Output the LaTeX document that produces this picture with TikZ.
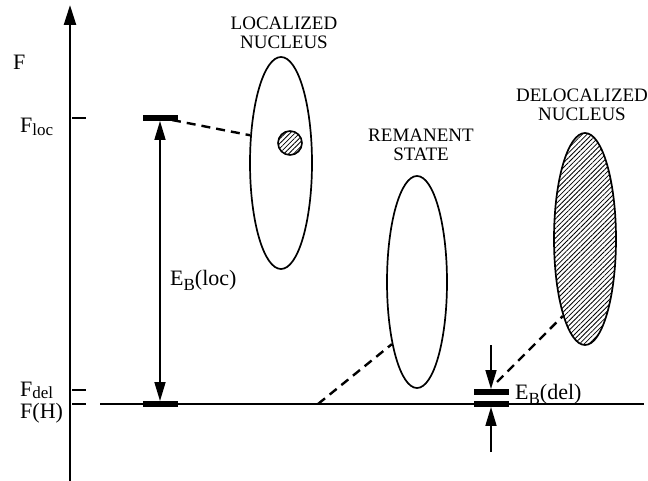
\documentclass[tikz,border=0pt]{standalone}
\usepackage{fontspec}
\setmainfont{Liberation Serif}
\usetikzlibrary{shapes.geometric,arrows.meta,patterns.meta}
\newcommand\mysub[2]{\raisebox{-#1}{\fontsize{17}{17}\selectfont #2}}
\begin{document}
\begin{tikzpicture}[x=1pt,y=-1pt,
  axisline/.style={line width=2.4pt},
  tickline/.style={line width=1.6pt},
  bar/.style={fill=black,draw=none,rectangle,minimum width=35pt,minimum height=5.5pt,inner sep=0pt},
  blob/.style={ellipse,draw,line width=1.7pt,inner sep=0pt},
  hatch/.style={pattern={Lines[angle=45,distance=3.4pt,line width=0.8pt]}},
  dashline/.style={line width=2.4pt,dash pattern=on 9pt off 6pt},
  big/.style={font=\fontsize{22}{24}\selectfont,inner sep=0pt},
  caps/.style={font=\fontsize{19}{19.5}\selectfont,inner sep=0pt,align=center},
  tipd/.style={-{Triangle[length=19pt,width=11pt]},line width=1.7pt}
]
\useasboundingbox (0,0) rectangle (648,481);
% axes
\coordinate (ybot) at (70,482);
\coordinate (ytop) at (70,5);
\draw[axisline,-{Triangle[length=20pt,width=12pt]}] (ybot) -- (ytop);
\coordinate (hl) at (100,404);
\coordinate (hr) at (644,404);
\draw[axisline] (hl) -- (hr);
% ticks
\draw[tickline] (72,118) -- (86,118);
\draw[tickline] (72,390) -- (86,390);
\draw[tickline] (72,404) -- (86,404);
% axis labels
\node[big,anchor=base west] (lF) at (13,70) {F};
\node[big,anchor=base west] (lFloc) at (20,133) {F\mysub{3pt}{loc}};
\node[big,anchor=base west] (lFdel) at (20,396) {F\mysub{2pt}{del}};
\node[big,anchor=base west] (lFH) at (20,418) {F(H)};
% bars
\node[bar] (barloc) at (160,118) {};
\node[bar] (barH) at (160,404) {};
\node[bar] (bardel) at (491,392) {};
\node[bar] (barH2) at (491,404) {};
% E_B(loc) arrow
\draw[line width=1.7pt,{Triangle[length=19pt,width=11pt]}-{Triangle[length=19pt,width=11pt]}] (barloc.south) -- (barH.north);
\node[big,anchor=base west] (lEloc) at (170,285) {E\mysub{5pt}{B}(loc)};
% E_B(del) arrows
\coordinate (dtop) at (491,345);
\coordinate (dbot) at (491,452);
\draw[tipd] (dtop) -- (bardel.north);
\draw[tipd] (dbot) -- (barH2.south);
\node[big,anchor=base west] (lEdel) at (515,399) {E\mysub{5pt}{B}(del)};
% nuclei
\node[blob,minimum width=62pt,minimum height=212pt] (loc) at (281,163) {};
\node[circle,draw,line width=1.6pt,hatch,minimum size=24pt,inner sep=0pt] (core) at (290,143) {};
\node[blob,minimum width=60pt,minimum height=212pt] (rem) at (417,282) {};
\node[blob,hatch,minimum width=62pt,minimum height=212pt] (del) at (585,239) {};
% labels
\node[caps] (tloc) at (284,33) {LOCALIZED\\NUCLEUS};
\node[caps] (trem) at (421,145) {REMANENT\\STATE};
\node[caps] (tdel) at (582,105) {DELOCALIZED\\NUCLEUS};
% dashed connectors
\coordinate (sloc) at (172,120);
\coordinate (srem) at (318,404);
\coordinate (sdel) at (497,382);
\draw[dashline] (sloc) -- (loc.138);
\draw[dashline] (srem) -- (rem.248);
\draw[dashline] (sdel) -- (del.254);
\end{tikzpicture}
\end{document}
